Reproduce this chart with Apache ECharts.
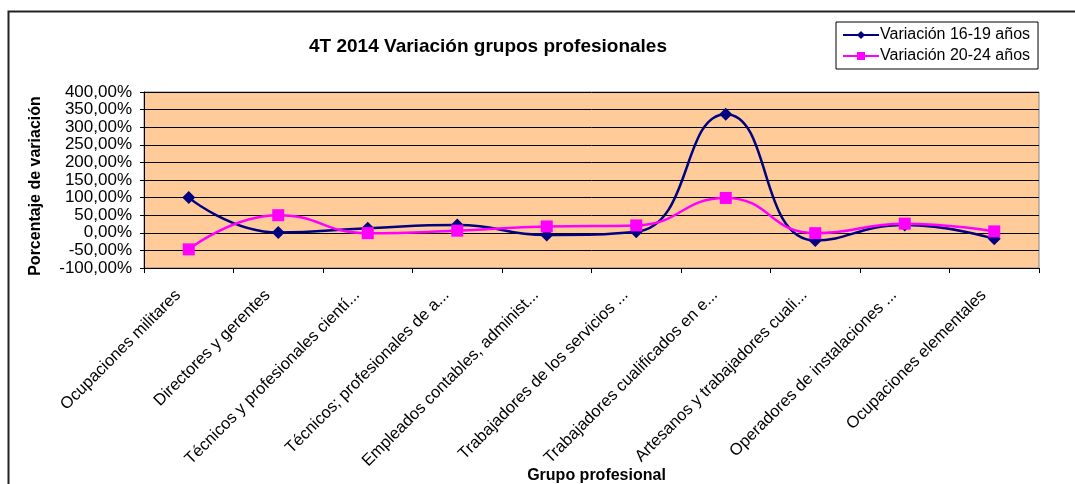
<!DOCTYPE html>
<html>
<head>
<meta charset="utf-8">
<script src="https://cdn.jsdelivr.net/npm/echarts@6/dist/echarts.min.js"></script>
<style>
    html, body { margin: 0; padding: 0; background: #fff; }
    #chart { width: 1075px; height: 484px; }
</style>
</head>
<body>
<div id="chart"></div>
<script>
// datos
const categorias = [
    "Ocupaciones militares",
    "Directores y gerentes",
    "Técnicos y profesionales cientí...",
    "Técnicos; profesionales de a...",
    "Empleados contables, administ...",
    "Trabajadores de los servicios ...",
    "Trabajadores cualificados en e...",
    "Artesanos y trabajadores cuali...",
    "Operadores de instalaciones ...",
    "Ocupaciones elementales"
]
const var1619 = [100, 1, 13, 22, -6, 3, 337, -22, 22, -17]
const var2024 = [-47, 50, -1, 6, 18, 21, 99, -1, 26, 4]
const ticksY = [-100, 400, 50]

;(function () {
    let myChart = echarts.init(document.getElementById("chart"))
    let fuente = "Liberation Sans, Arial, sans-serif"
    let option = {
        animation: false,
        backgroundColor: "#fff",
        title: {
            text: "4T 2014 Variación grupos profesionales",
            left: 483,
            top: 32,
            textAlign: "center",
            textStyle: { fontFamily: fuente, fontSize: 19, fontWeight: "bold", color: "#000" }
        },
        legend: {
            orient: "vertical",
            left: 836,
            top: 22,
            width: 199,
            padding: [5, 8, 5, 6],
            itemGap: 5,
            itemWidth: 36,
            itemHeight: 10,
            borderColor: "#000",
            borderWidth: 1,
            textStyle: { fontFamily: fuente, fontSize: 16, color: "#000", padding: [0, 0, 0, -4] },
            data: ["Variación 16-19 años", "Variación 20-24 años"]
        },
        graphic: [
            {
                type: "rect",
                shape: { x: 8.5, y: 11.5, width: 1100, height: 500 },
                style: { fill: null, stroke: "#222", lineWidth: 2 },
                z: -1
            }
        ],
        grid: {
            left: 144,
            right: 36,
            top: 92,
            bottom: 216,
            outerBoundsMode: "none",
            containLabel: false,
            show: true,
            backgroundColor: "#FFCC99",
            borderColor: "#808080",
            borderWidth: 1
        },
        xAxis: {
            type: "category",
            data: categorias,
            boundaryGap: true,
            name: "Grupo profesional",
            nameLocation: "middle",
            nameGap: 200,
            nameMoveOverlap: false,
            nameTextStyle: { fontFamily: fuente, fontSize: 16, fontWeight: "bold", color: "#000", padding: [0, 0, 0, 10] },
            axisLine: { onZero: false, lineStyle: { color: "#000" } },
            axisTick: { show: true, length: 5, lineStyle: { color: "#000" } },
            axisLabel: {
                interval: 0,
                rotate: 45,
                margin: 14,
                padding: [0, 15, 0, 0],
                fontFamily: fuente,
                fontSize: 16.5,
                color: "#000"
            }
        },
        yAxis: {
            type: "value",
            min: ticksY[0],
            max: ticksY[1],
            interval: ticksY[2],
            name: "Porcentaje de variación",
            nameLocation: "middle",
            nameGap: 100,
            nameMoveOverlap: false,
            nameTextStyle: { fontFamily: fuente, fontSize: 16, fontWeight: "bold", color: "#000", padding: [0, 12, 0, 0] },
            axisLine: { show: true, lineStyle: { color: "#000" } },
            axisTick: { show: true, length: 4, lineStyle: { color: "#000" } },
            axisLabel: {
                fontFamily: fuente,
                fontSize: 17,
                color: "#000",
                margin: 12,
                formatter: function (v) {
                    return v.toFixed(2).replace(".", ",") + "%"
                }
            },
            splitLine: { lineStyle: { color: "#000", width: 1 } }
        },
        series: [
            {
                name: "Variación 16-19 años",
                type: "line",
                data: var1619,
                smooth: 0.5,
                symbol: "diamond",
                symbolSize: 13,
                color: "#000080",
                lineStyle: { width: 2.5, color: "#000080" },
                itemStyle: { color: "#000080" },
                z: 3
            },
            {
                name: "Variación 20-24 años",
                type: "line",
                data: var2024,
                smooth: 0.5,
                symbol: "rect",
                symbolSize: 12,
                color: "#FF00FF",
                lineStyle: { width: 2.5, color: "#FF00FF" },
                itemStyle: { color: "#FF00FF" },
                z: 4
            }
        ]
    }
    myChart.setOption(option)
    window.addEventListener("resize", function () {
        myChart.resize()
    })
})();
</script>
</body>
</html>
